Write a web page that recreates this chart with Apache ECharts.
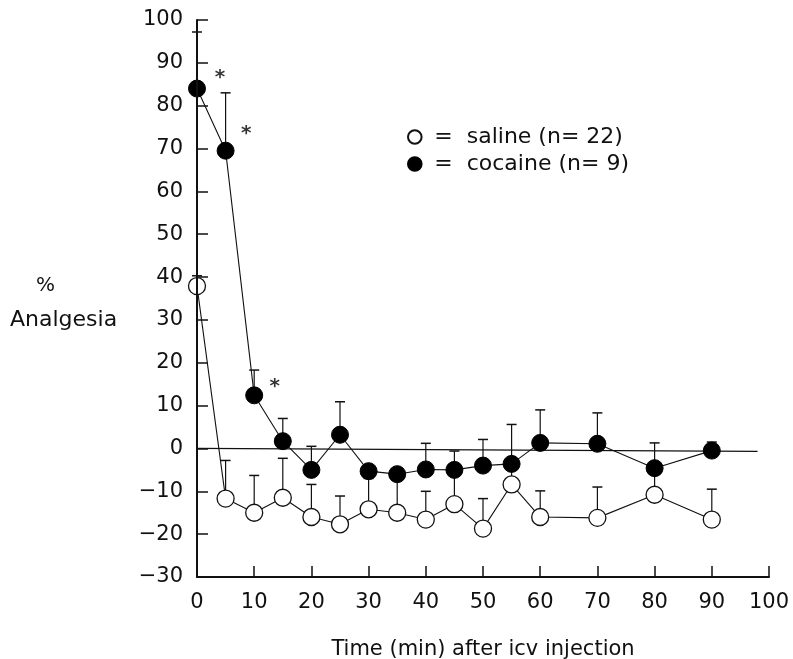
<!DOCTYPE html>
<html>
<head>
<meta charset="utf-8">
<script src="https://cdn.jsdelivr.net/npm/echarts@6/dist/echarts.min.js"></script>
<style>
  html, body { margin: 0; padding: 0; background: #fff; }
  #chart { width: 793px; height: 659px; }
</style>
</head>
<body>
<div id="chart"></div>
<script>
// data
var times = [0, 5, 10, 15, 20, 25, 30, 35, 40, 45, 50, 55, 60, 70, 80, 90];
var salineMean = [37.9, -11.7, -15.0, -11.5, -16.0, -17.7, -14.2, -15.0, -16.6, -13.0, -18.7, -8.4, -16.0, -16.2, -10.8, -16.6];
var salineTop = [40.3, -2.8, -6.3, -2.3, -8.4, -11.1, -7.0, -7.5, -10.0, -6.0, -11.7, -4.5, -9.9, -9.0, -5.5, -9.5];
var cocaineMean = [84.0, 69.5, 12.4, 1.7, -5.0, 3.2, -5.3, -6.0, -4.9, -5.0, -4.0, -3.6, 1.3, 1.1, -4.6, -0.5];
var cocaineTop = [97.2, 83.0, 18.3, 7.0, 0.5, 10.9, -4.5, -5.0, 1.2, -0.6, 2.1, 5.6, 9.0, 8.3, 1.3, 1.5];
var starX = [4.0, 8.6, 13.6];
var starY = [86.6, 73.4, 14.3];
var zeroLine = [[0, 0], [98, -0.7]];
var xTicks = [0, 100, 10];
var yTicks = [-30, 100, 10];

function pairs(xs, ys) {
    return xs.map(function (x, i) { return [x, ys[i]]; });
}

var chart = echarts.init(document.getElementById('chart'));

var fontFam = 'DejaVu Sans';

function errorBars(means, tops) {
    return {
        type: 'custom',
        z: 1,
        silent: true,
        data: times.map(function (t, i) { return [t, means[i], tops[i]]; }),
        renderItem: function (params, api) {
            var p0 = api.coord([api.value(0), api.value(1)]);
            var p1 = api.coord([api.value(0), api.value(2)]);
            var w = 5;
            return {
                type: 'group',
                children: [
                    {
                        type: 'line',
                        shape: {x1: p0[0], y1: p0[1], x2: p1[0], y2: p1[1]},
                        style: {stroke: '#111', lineWidth: 1.2}
                    },
                    {
                        type: 'line',
                        shape: {x1: p1[0] - w, y1: p1[1], x2: p1[0] + w, y2: p1[1]},
                        style: {stroke: '#111', lineWidth: 1.5}
                    }
                ]
            };
        }
    };
}

var option = {
    animation: false,
    backgroundColor: '#fff',
    grid: {left: 197, right: 24, top: 20, bottom: 82, outerBoundsMode: 'none', containLabel: false},
    legend: {
        orient: 'vertical',
        left: 402,
        top: 121,
        itemWidth: 13,
        itemHeight: 17,
        itemGap: 5,
        data: ['saline (n= 22)', 'cocaine (n= 9)'],
        formatter: function (name) { return '=  ' + name; },
        textStyle: {fontFamily: fontFam, fontSize: 22, color: '#111', padding: [0, 0, 0, 8]}
    },
    graphic: [
        {type: 'text', left: 36, top: 276, style: {text: '%', font: '20px ' + fontFam, fill: '#111'}},
        {type: 'text', left: 10, top: 309, style: {text: 'Analgesia', font: '22px ' + fontFam, fill: '#111'}}
    ],
    xAxis: {
        type: 'value',
        min: xTicks[0],
        max: xTicks[1],
        interval: xTicks[2],
        name: 'Time (min) after icv injection',
        nameLocation: 'middle',
        nameGap: 62,
        nameTextStyle: {fontFamily: fontFam, fontSize: 21, color: '#111'},
        axisLine: {onZero: false, lineStyle: {color: '#111', width: 2}},
        axisTick: {inside: true, length: 11, lineStyle: {color: '#111', width: 1.5}},
        axisLabel: {fontFamily: fontFam, fontSize: 21, color: '#111', margin: 15},
        splitLine: {show: false}
    },
    yAxis: {
        type: 'value',
        min: yTicks[0],
        max: yTicks[1],
        interval: yTicks[2],
        z: 5,
        axisLine: {lineStyle: {color: '#111', width: 2}},
        axisTick: {inside: true, length: 11, lineStyle: {color: '#111', width: 1.5}},
        axisLabel: {
            fontFamily: fontFam, fontSize: 21, color: '#111', margin: 14,
            formatter: function (v) { return v < 0 ? '\u2212' + Math.abs(v) : String(v); }
        },
        splitLine: {show: false}
    },
    series: [
        {
            type: 'line',
            name: 'zero',
            data: zeroLine,
            symbol: 'none',
            silent: true,
            z: 0,
            lineStyle: {color: '#111', width: 1.3}
        },
        errorBars(salineMean, salineTop),
        {
            type: 'line',
            name: 'saline (n= 22)',
            data: pairs(times, salineMean),
            symbol: 'circle',
            symbolSize: 17,
            z: 2,
            lineStyle: {color: '#111', width: 1.1},
            itemStyle: {color: '#fff', borderColor: '#111', borderWidth: 1.3}
        },
        errorBars(cocaineMean, cocaineTop),
        {
            type: 'line',
            name: 'cocaine (n= 9)',
            data: pairs(times, cocaineMean),
            symbol: 'circle',
            symbolSize: 17,
            z: 3,
            lineStyle: {color: '#111', width: 1.1},
            itemStyle: {color: '#000', borderColor: '#000', borderWidth: 1}
        },
        {
            type: 'scatter',
            name: 'stars',
            data: pairs(starX, starY),
            symbolSize: 0,
            silent: true,
            label: {
                show: true,
                position: 'inside',
                formatter: '*',
                fontFamily: fontFam,
                fontSize: 20,
                fontWeight: 'bold',
                color: '#000',
                textBorderWidth: 0
            }
        }
    ]
};

chart.setOption(option);
</script>
</body>
</html>
